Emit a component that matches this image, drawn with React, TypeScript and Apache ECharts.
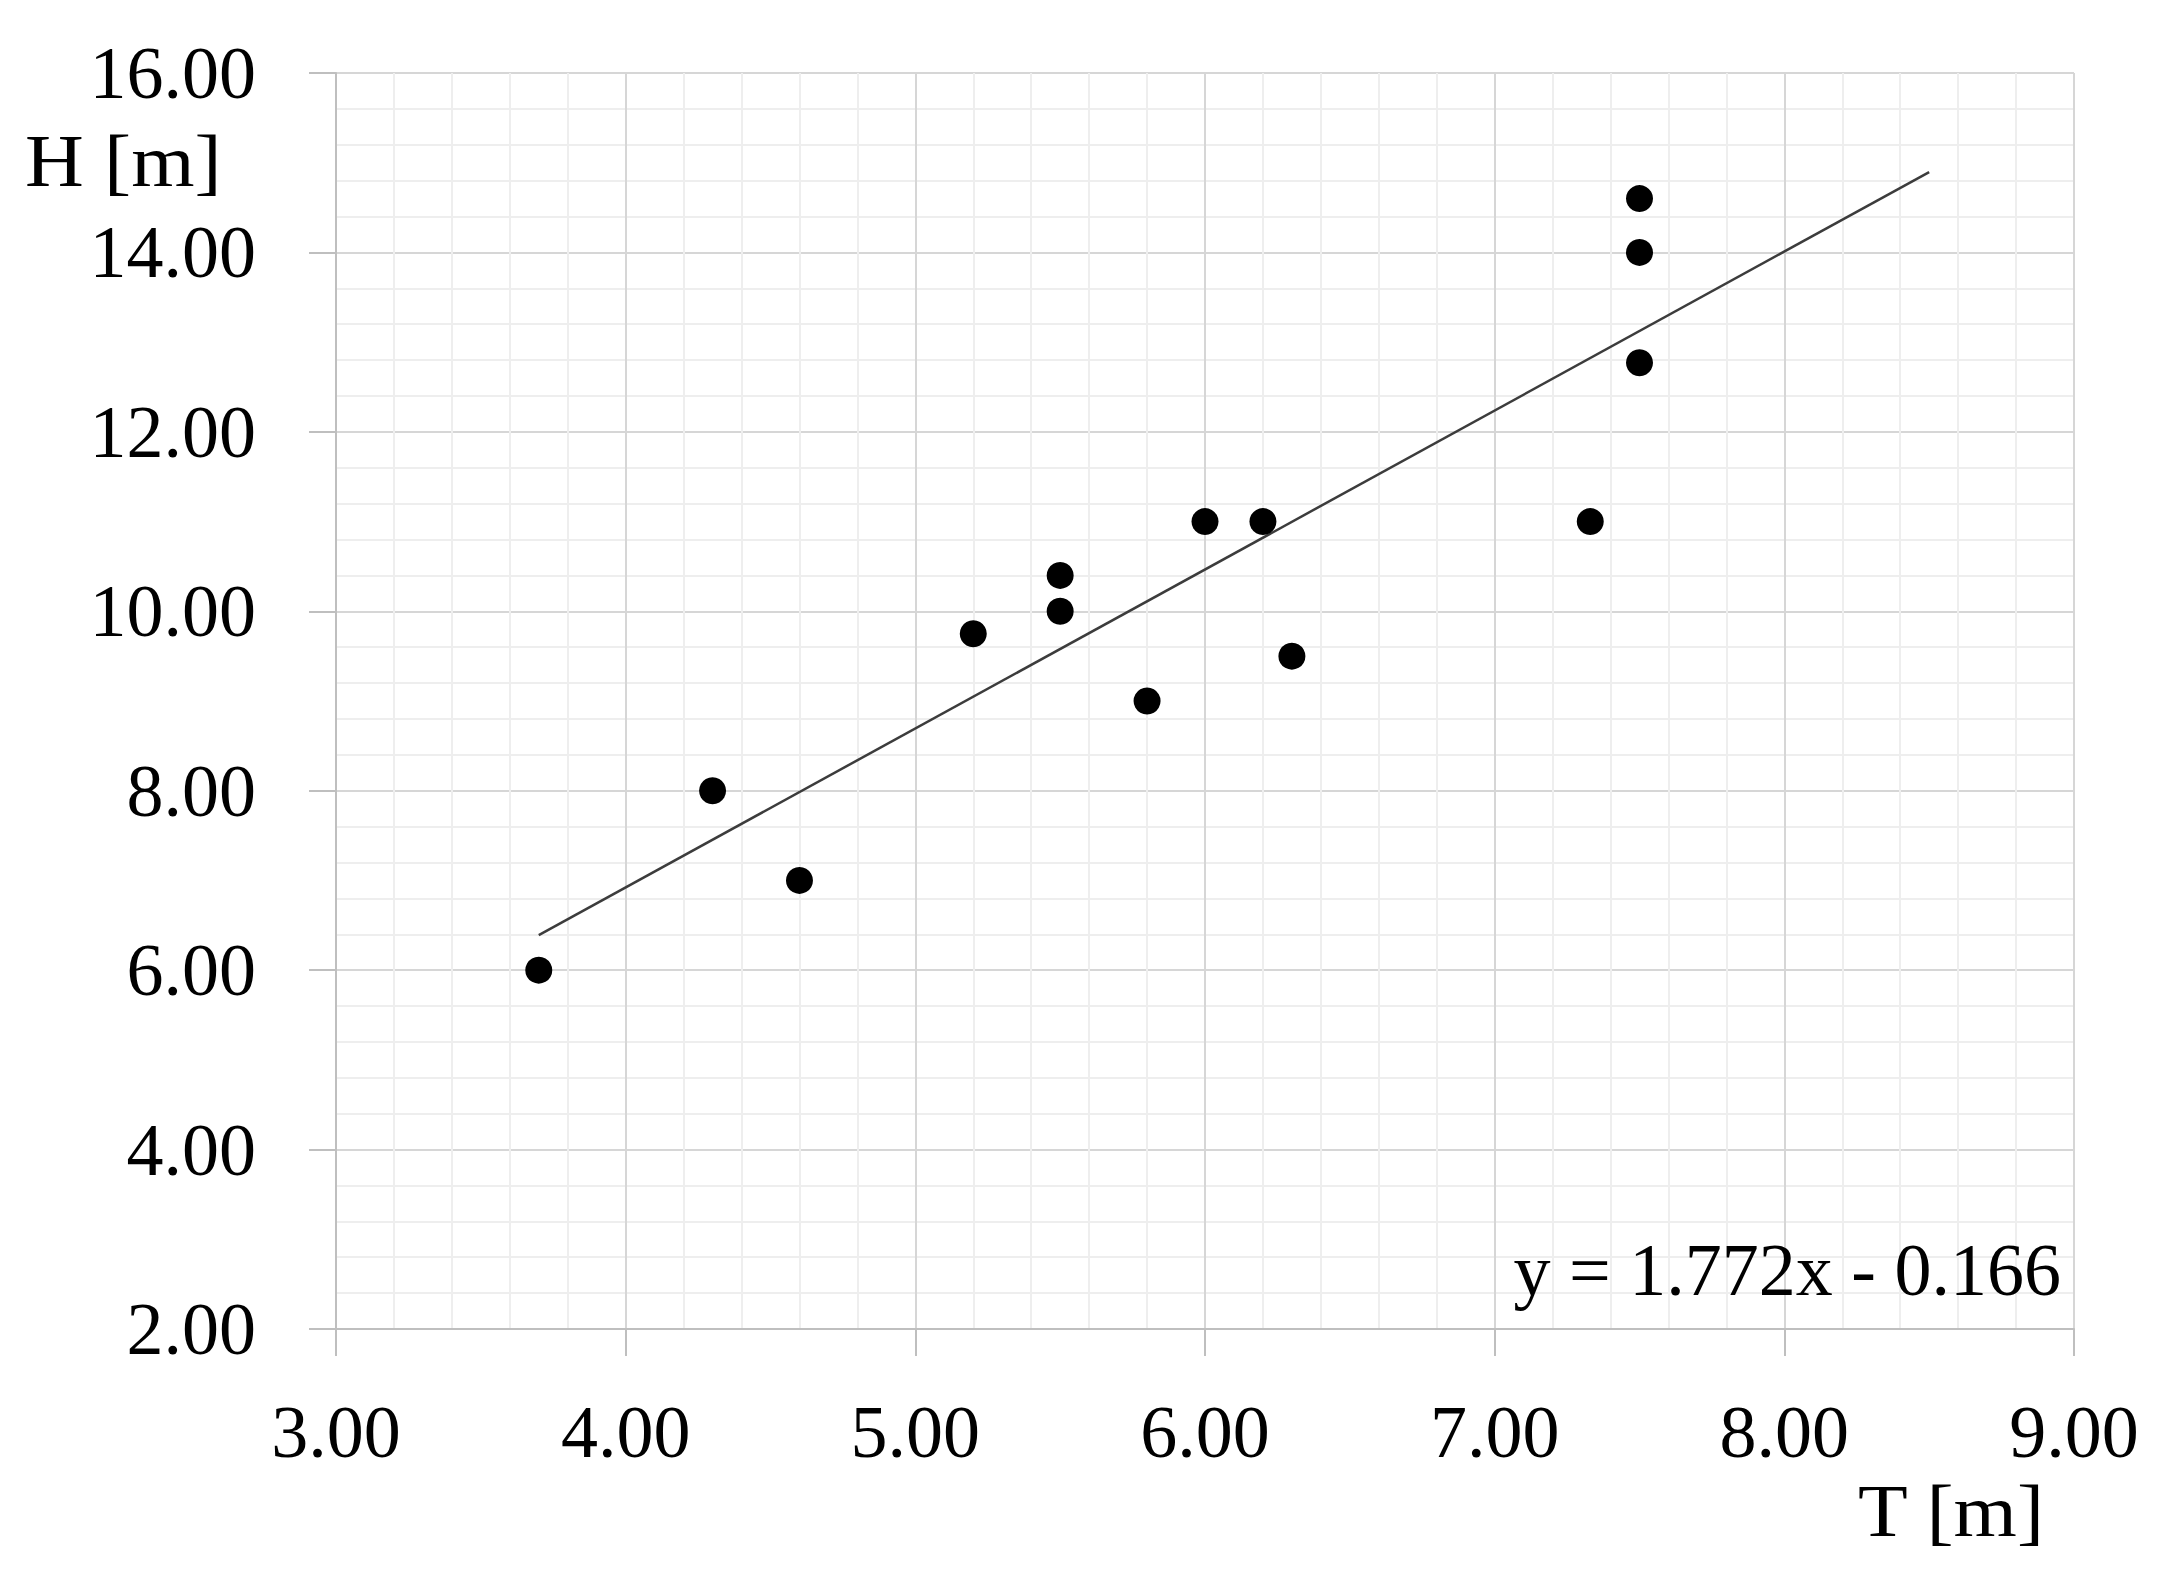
import React, { useEffect, useRef } from 'react';
import * as echarts from 'echarts';

// measured points, T [m] vs H [m]
const tValues = [3.7, 4.3, 4.6, 5.2, 5.5, 5.5, 5.8, 6.0, 6.2, 6.3, 7.33, 7.5, 7.5, 7.5];
const hValues = [6.0, 8.0, 7.0, 9.75, 10.4, 10.0, 9.0, 11.0, 11.0, 9.5, 11.0, 12.77, 14.0, 14.6];

// linear trend as printed on the chart
const trendSlope = 1.772;
const trendIntercept = -0.166;
const trendRange = [3.7, 8.5];
const equationText = 'y = 1.772x - 0.166';

const xAxisRange = [3, 9];
const yAxisRange = [2, 16];

const FONT = "'Liberation Serif', 'Times New Roman', serif";

export default function App() {
  const elRef = useRef<HTMLDivElement>(null);

  useEffect(() => {
    if (!elRef.current) return;
    document.body.style.margin = '0';
    const chart = echarts.init(elRef.current, null, { renderer: 'svg' });

    const points = tValues.map((t, i) => [t, hValues[i]]);
    const trend = trendRange.map(x => [x, trendSlope * x + trendIntercept]);

    const axisColor = '#bfbfbf';
    const labelStyle = { color: '#000', fontFamily: FONT, fontSize: 74 };

    chart.setOption({
      animation: false,
      backgroundColor: '#fff',
      grid: { left: 336, right: 94, top: 73, bottom: 243 },
      xAxis: {
        type: 'value',
        min: xAxisRange[0],
        max: xAxisRange[1],
        interval: 1,
        axisLine: { show: true, lineStyle: { color: axisColor, width: 2 } },
        axisTick: { show: true, length: 27, lineStyle: { color: axisColor, width: 2 } },
        axisLabel: { ...labelStyle, margin: 66, formatter: (v: number) => v.toFixed(2) },
        splitLine: { show: true, lineStyle: { color: '#d6d6d6', width: 2 } },
        minorTick: { show: false, splitNumber: 5 },
        minorSplitLine: { show: true, lineStyle: { color: '#eeeeee', width: 2 } },
      },
      yAxis: {
        type: 'value',
        min: yAxisRange[0],
        max: yAxisRange[1],
        interval: 2,
        axisLine: { show: true, lineStyle: { color: axisColor, width: 2 } },
        axisTick: { show: true, length: 27, lineStyle: { color: axisColor, width: 2 } },
        axisLabel: { ...labelStyle, margin: 80, formatter: (v: number) => v.toFixed(2) },
        splitLine: { show: true, lineStyle: { color: '#d6d6d6', width: 2 } },
        minorTick: { show: false, splitNumber: 5 },
        minorSplitLine: { show: true, lineStyle: { color: '#eeeeee', width: 2 } },
      },
      series: [
        {
          type: 'line',
          data: trend,
          showSymbol: false,
          silent: true,
          lineStyle: { color: '#3c3c3c', width: 2.5 },
          z: 2,
        },
        {
          type: 'scatter',
          data: points,
          symbol: 'circle',
          symbolSize: 27,
          itemStyle: { color: '#000', opacity: 1 },
          z: 3,
        },
      ],
      graphic: [
        {
          type: 'text',
          x: 25,
          y: 161,
          scaleX: 1.1,
          z: 100,
          style: { text: 'H [m]', font: `74px ${FONT}`, fill: '#000', textAlign: 'left', textVerticalAlign: 'middle' },
        },
        {
          type: 'text',
          x: 2044,
          y: 1511,
          scaleX: 1.1,
          z: 100,
          style: { text: 'T [m]', font: `74px ${FONT}`, fill: '#000', textAlign: 'right', textVerticalAlign: 'middle' },
        },
        {
          type: 'text',
          x: 2061,
          y: 1270,
          z: 100,
          style: { text: equationText, font: `74px ${FONT}`, fill: '#000', textAlign: 'right', textVerticalAlign: 'middle' },
        },
      ],
    });

    return () => chart.dispose();
  }, []);

  return <div ref={elRef} style={{ width: 2168, height: 1572 }} />;
}
